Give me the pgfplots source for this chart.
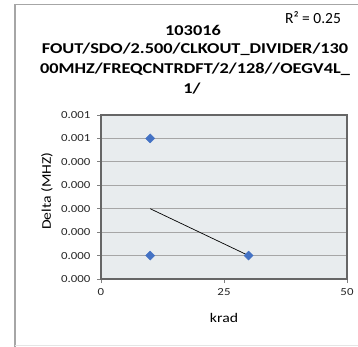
\documentclass[border=0pt]{standalone}
\usepackage{pgfplots}
\pgfplotsset{compat=1.18}
\usepackage{fontspec}
\setmainfont{Carlito}
\newfontfamily\wide[FakeStretch=1.19]{Carlito}
\newfontfamily\widetitle[FakeStretch=1.22]{Carlito}

\definecolor{plotbg}{HTML}{E8ECEE}
\definecolor{gridgray}{HTML}{A6A6A6}
\definecolor{markblue}{HTML}{4472C4}
\definecolor{framegray}{HTML}{A6A6A6}

\begin{document}
\begin{tikzpicture}[x=1pt,y=1pt]
  \useasboundingbox (0,0) rectangle (358,-347);
  % chart frame
  \draw[framegray, line width=1.5pt] (15,-350) -- (15,-4.5) -- (362,-4.5);
  \draw[gray!20, line width=1pt] (15,-345.5) -- (362,-345.5);

  % title
  \begin{scope}[font=\widetitle\fontsize{15}{17}\selectfont\bfseries]
    \node at (193,-30) {103016};
    \node at (195,-49.5) {FOUT/SDO/2.500/CLKOUT\_DIVIDER/130};
    \node at (195,-69.5) {00MHZ/FREQCNTRDFT/2/128//OEGV4L\_};
    \node at (192,-89) {1/};
  \end{scope}
  \node[font=\fontsize{15.5}{17}\selectfont] at (313,-17.5) {R² = 0.25};

  \begin{axis}[
      at={(101pt,-279pt)}, anchor=south west,
      scale only axis, width=246pt, height=164pt,
      xmin=0, xmax=50, ymin=0, ymax=0.0007,
      xtick={0,25,50},
      ytick={0,0.0001,0.0002,0.0003,0.0004,0.0005,0.0006,0.0007},
      yticklabels={0.000,0.000,0.000,0.000,0.000,0.000,0.001,0.001},
      scaled y ticks=false,
      axis background/.style={fill=plotbg},
      ymajorgrids,
      major grid style={gridgray, line width=0.9pt},
      axis line style={black!60, line width=1.1pt},
      tick style={black!50, line width=0.8pt},
      tick align=outside, major tick length=4pt,
      xtick pos=left, ytick pos=left,
      tick label style={font=\wide\fontsize{10.8}{12}\selectfont, text=black!85},
      yticklabel style={xshift=-3pt},
      xticklabel style={yshift=-2pt},
      /pgf/number format/assume math mode=true,
      xlabel={krad},
      xlabel style={at={(axis description cs:0.5,-0.2378)}, anchor=center,
        font=\wide\fontsize{13.2}{15}\selectfont},
      ylabel={Delta (MHZ)},
      ylabel style={at={(axis description cs:-0.2195,0.5366)}, anchor=center,
        font=\wide\fontsize{13.2}{15}\selectfont},
      clip=false,
    ]
    % data points
    \addplot[only marks, mark=square*, mark size=3.2pt,
      mark options={rotate=45, fill=markblue, draw=markblue}]
      coordinates {(10,0.0006) (10,0.0001) (30,0.0001)};
    % linear trendline
    \addplot[black, line width=0.7pt, no marks]
      coordinates {(10,0.0003) (30,0.0001)};
  \end{axis}
\end{tikzpicture}
\end{document}
